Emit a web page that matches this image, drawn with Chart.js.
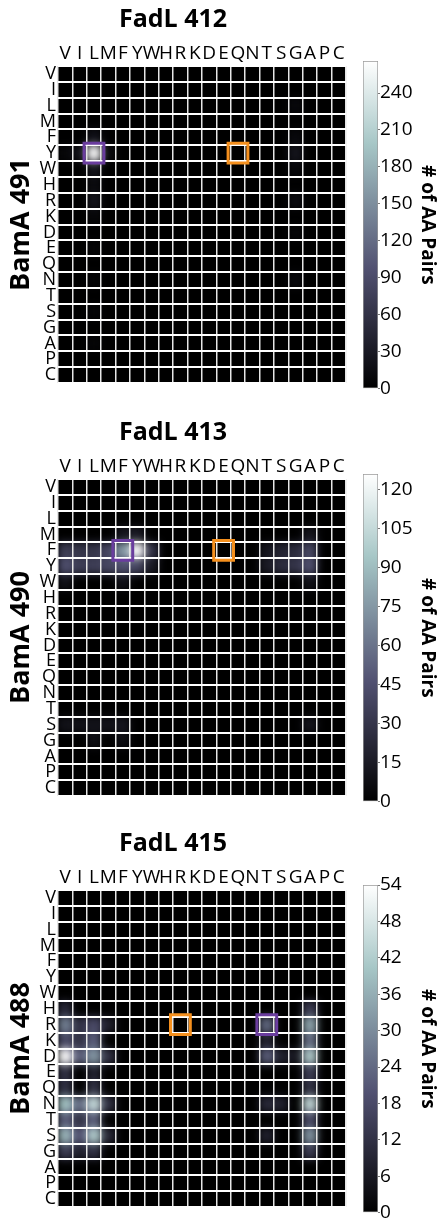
<!DOCTYPE html>
<html>
<head>
<meta charset="utf-8">
<script src="https://cdn.jsdelivr.net/npm/chart.js@4.4.0/dist/chart.umd.min.js"></script>
<style>
  body { margin: 0; background: #fff; width: 439px; height: 1218px; overflow: hidden; }
  .panel { position: absolute; left: 0; width: 439px; height: 400px; }
  .panel canvas { position: absolute; top: 0; }
</style>
</head>
<body>
<div id="page"></div>
<script>
// amino acid order used on both axes
const AA = ["V", "I", "L", "M", "F", "Y", "W", "H", "R", "K", "D", "E", "Q", "N", "T", "S", "G", "A", "P", "C"];

const fadlTitles = ["FadL 412", "FadL 413", "FadL 415"];
const bamaTitles = ["BamA 491", "BamA 490", "BamA 488"];
const cbMax = [266, 126, 54];
const cbStep = [30, 15, 6];

// [FadL residue (column), BamA residue (row), # of AA pairs] - every other pair is 0
const pairs412 = [
  ["L", "Y", 266], ["I", "Y", 22], ["V", "Y", 8], ["M", "Y", 12],
  ["L", "F", 22], ["L", "W", 25], ["L", "H", 12], ["L", "R", 25], ["L", "K", 8],
  ["L", "E", 6], ["L", "N", 6], ["L", "S", 6], ["L", "A", 6],
  ["G", "L", 10], ["G", "F", 10], ["G", "Y", 25], ["G", "W", 10], ["G", "R", 15],
  ["G", "D", 8], ["G", "N", 12]
];
const pairs413 = [
  ["V", "F", 35], ["I", "F", 30], ["L", "F", 30], ["M", "F", 40], ["F", "F", 75], ["Y", "F", 126], ["W", "F", 30],
  ["V", "Y", 45], ["I", "Y", 35], ["L", "Y", 35], ["M", "Y", 40], ["F", "Y", 45], ["Y", "Y", 40], ["W", "Y", 15],
  ["F", "M", 12], ["Y", "M", 15], ["V", "W", 10], ["F", "W", 10],
  ["T", "F", 12], ["S", "F", 20], ["G", "F", 25], ["A", "F", 40],
  ["T", "Y", 15], ["S", "Y", 25], ["G", "Y", 30], ["A", "Y", 45],
  ["A", "M", 12], ["A", "W", 10],
  ["V", "S", 10], ["I", "S", 10], ["L", "S", 10], ["M", "S", 10], ["F", "S", 12], ["A", "S", 12],
  ["L", "G", 8], ["F", "G", 8]
];
const pairs415 = [
  ["V", "H", 10], ["V", "R", 28], ["V", "K", 18], ["V", "D", 54], ["V", "E", 12], ["V", "Q", 12],
  ["V", "N", 40], ["V", "T", 22], ["V", "S", 38], ["V", "G", 15],
  ["I", "R", 12], ["I", "K", 12], ["I", "D", 22], ["I", "N", 25], ["I", "T", 12], ["I", "S", 20], ["I", "G", 8],
  ["L", "R", 18], ["L", "K", 22], ["L", "D", 32], ["L", "E", 8], ["L", "Q", 12],
  ["L", "N", 45], ["L", "T", 22], ["L", "S", 42], ["L", "G", 12],
  ["M", "R", 8], ["M", "D", 12], ["M", "N", 12], ["M", "S", 10],
  ["A", "H", 15], ["A", "R", 35], ["A", "K", 25], ["A", "D", 42], ["A", "E", 15], ["A", "Q", 12],
  ["A", "N", 45], ["A", "T", 18], ["A", "S", 32], ["A", "G", 15],
  ["T", "R", 24], ["T", "K", 8], ["T", "D", 22], ["T", "N", 10], ["T", "S", 8],
  ["S", "D", 8], ["S", "N", 8], ["G", "D", 6]
];
const allPairs = [pairs412, pairs413, pairs415];

// highlighted cells [column, row]
const purpleCells = [["L", "Y"], ["F", "F"], ["T", "R"]];
const orangeCells = [["Q", "Y"], ["E", "F"], ["R", "R"]];

const FONT = "'Open Sans', 'DejaVu Sans', sans-serif";

// matplotlib "bone" colormap
function bone(t) {
  t = Math.max(0, Math.min(1, t));
  const seg = (pts) => {
    for (let i = 1; i < pts.length; i++) {
      if (t <= pts[i][0]) {
        const [x0, y0] = pts[i - 1];
        const [x1, y1] = pts[i];
        return y0 + ((y1 - y0) * (t - x0)) / (x1 - x0);
      }
    }
    return 1;
  };
  const r = seg([[0, 0], [0.746032, 0.652778], [1, 1]]);
  const g = seg([[0, 0], [0.365079, 0.319444], [0.746032, 0.777778], [1, 1]]);
  const b = seg([[0, 0], [0.365079, 0.444444], [1, 1]]);
  return `rgb(${Math.round(r * 255)},${Math.round(g * 255)},${Math.round(b * 255)})`;
}

// paints the cells (smoothed like imshow interpolation) under the grid lines
const heatPlugin = {
  id: "heat",
  beforeDraw(chart) {
    const idx = chart.data.datasets.findIndex((d) => d.heat);
    const set = chart.data.datasets[idx];
    const meta = chart.getDatasetMeta(idx);
    const { x, y } = chart.scales;
    const a = chart.chartArea;
    const cw = x.width / AA.length;
    const ch = y.height / AA.length;

    const off = document.createElement("canvas");
    off.width = chart.width;
    off.height = chart.height;
    const oc = off.getContext("2d");
    oc.fillStyle = bone(0);
    oc.fillRect(0, 0, off.width, off.height);
    meta.data.forEach((pt, i) => {
      oc.fillStyle = bone(set.data[i].v / set.vmax);
      oc.fillRect(pt.x - cw / 2, pt.y - ch / 2, cw, ch);
    });

    const ctx = chart.ctx;
    ctx.save();
    ctx.beginPath();
    ctx.rect(a.left, a.top, a.width, a.height);
    ctx.clip();
    ctx.filter = "blur(4.5px)";
    ctx.drawImage(off, 0, 0);
    ctx.restore();
  },
};

const panelTops = [0, 413, 824];
const page = document.getElementById("page");

fadlTitles.forEach((title, p) => {
  const panel = document.createElement("div");
  panel.className = "panel";
  panel.style.top = panelTops[p] + "px";
  panel.innerHTML = `<canvas id="heat${p}" width="439" height="400" style="left:0"></canvas>
    <canvas id="bar${p}" width="99" height="400" style="left:340px"></canvas>`;
  page.appendChild(panel);

  const lookup = {};
  allPairs[p].forEach(([c, r, v]) => (lookup[c + r] = v));
  const cells = [];
  AA.forEach((r) => AA.forEach((c) => cells.push({ x: c, y: r, v: lookup[c + r] || 0 })));

  const boxStyle = (color) => ({
    pointStyle: "rect",
    pointRadius: 14,
    pointBorderWidth: 3,
    pointBorderColor: color,
    pointBackgroundColor: "rgba(0,0,0,0)",
  });

  new Chart(document.getElementById("heat" + p), {
    type: "scatter",
    data: {
      datasets: [
        { data: [{ x: purpleCells[p][0], y: purpleCells[p][1] }], ...boxStyle("#6a3d9e") },
        { data: [{ x: orangeCells[p][0], y: orangeCells[p][1] }], ...boxStyle("#f5901e") },
        { heat: true, vmax: cbMax[p], data: cells, pointRadius: 0 },
      ],
    },
    options: {
      responsive: false,
      animation: false,
      events: [],
      layout: { padding: { top: 0, right: 93, bottom: 16, left: 0 } },
      plugins: {
        legend: { display: false },
        tooltip: { enabled: false },
        title: {
          display: true,
          text: title,
          color: "#000",
          font: { family: FONT, size: 25, weight: "bold" },
          padding: { top: 5, bottom: 0 },
        },
      },
      scales: {
        x: {
          type: "category",
          labels: AA,
          position: "top",
          offset: true,
          grid: { offset: true, color: "#e6e6e6", lineWidth: 1.5, drawTicks: false },
          border: { display: false },
          ticks: { color: "#000", font: { family: FONT, size: 19 }, padding: 1, autoSkip: false, maxRotation: 0 },
          afterFit: (s) => { s.height = 31; },
        },
        y: {
          type: "category",
          labels: AA,
          offset: true,
          grid: { offset: true, color: "#ffffff", lineWidth: 2, drawTicks: false },
          border: { display: false },
          ticks: { color: "#000", font: { family: FONT, size: 18 }, padding: 2, autoSkip: false },
          title: {
            display: true,
            text: bamaTitles[p],
            color: "#000",
            font: { family: FONT, size: 27, weight: "bold" },
            padding: { top: 5, bottom: 0 },
          },
          afterFit: (s) => { s.width = 58; },
        },
      },
    },
    plugins: [heatPlugin],
  });

  // colour bar
  new Chart(document.getElementById("bar" + p), {
    type: "bar",
    data: {
      labels: [""],
      datasets: [{
        data: [cbMax[p]],
        barPercentage: 1,
        categoryPercentage: 1,
        borderWidth: 1,
        borderColor: "#9a9a9a",
        borderSkipped: false,
        backgroundColor: (c) => {
          const area = c.chart.chartArea;
          if (!area) return "#000";
          const g = c.chart.ctx.createLinearGradient(0, area.bottom, 0, area.top);
          [0, 0.365079, 0.746032, 1].forEach((t) => g.addColorStop(t, bone(t)));
          return g;
        },
      }],
    },
    options: {
      responsive: false,
      animation: false,
      events: [],
      layout: { padding: { top: 61, right: 0, bottom: 11, left: 23 } },
      plugins: { legend: { display: false }, tooltip: { enabled: false } },
      scales: {
        x: { display: false },
        y: {
          position: "right",
          min: 0,
          max: cbMax[p],
          ticks: { stepSize: cbStep[p], includeBounds: false, color: "#000", font: { family: FONT, size: 19 }, padding: 0 },
          grid: { drawOnChartArea: false, tickLength: 2, color: "#777" },
          border: { display: false },
          title: {
            display: true,
            text: "# of AA Pairs",
            color: "#000",
            font: { family: FONT, size: 19, weight: "bold" },
            padding: { top: 0, bottom: 0 },
          },
          afterFit: (s) => { s.width = 61; },
        },
      },
    },
  });
});
</script>
</body>
</html>
